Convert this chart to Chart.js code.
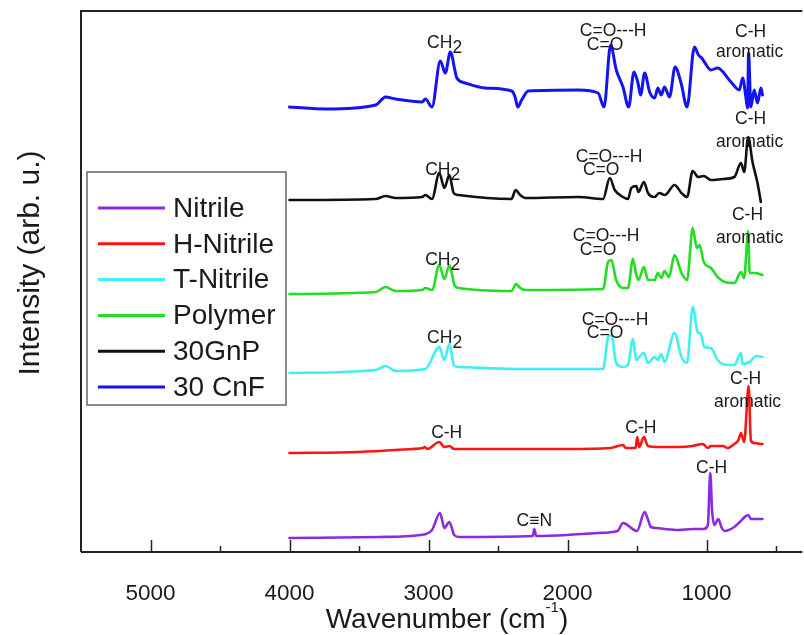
<!DOCTYPE html>
<html><head><meta charset="utf-8">
<script src="https://cdn.jsdelivr.net/npm/chart.js@4.4.1/dist/chart.umd.min.js"></script>
<style>html,body{margin:0;padding:0;background:#fff}canvas{display:block}</style>
</head><body>
<canvas id="c" width="804" height="635"></canvas>
<script>
// ---- data ----
const seriesNames = ['Nitrile', 'H-Nitrile', 'T-Nitrile', 'Polymer', '30GnP', '30 CnF'];
const seriesColors = ['#8a2be2', '#ff1414', '#3ef0f0', '#22dd22', '#111111', '#1414f0'];
const seriesOffsets = [14, 99, 179, 258, 352, 445];

const nitrileWave = [4000, 3350, 3060, 2975, 2917, 2886, 2850, 2815, 2780, 2250, 2239, 2225, 2000, 1780, 1640, 1601, 1580, 1560, 1500, 1445, 1420, 1400, 1360, 1300, 1200, 1100, 1020, 990, 973, 960, 944, 915, 890, 870, 800, 760, 700, 680, 597];
const nitrileInt  = [0, 1, 3, 8, 25, 10, 16, 3, 1, 2, 9, 2, 3, 5, 7, 15, 14, 12, 7, 26, 18, 11, 10, 9, 8, 9, 9, 13, 65, 28, 13, 19, 10, 7, 11, 16, 23, 19, 19];

const hNitrileWave = [4000, 3500, 3119, 3040, 3027, 3010, 2922, 2886, 2850, 2815, 2400, 2000, 1690, 1601, 1580, 1510, 1498, 1485, 1450, 1421, 1350, 1200, 1100, 1027, 990, 968, 880, 850, 800, 770, 752, 729, 697, 681, 660, 597];
const hNitrileInt  = [0, 1, 4, 5, 6, 4, 11, 6, 7, 4, 4, 4, 5, 8, 5, 5, 16, 6, 16, 7, 6, 6, 7, 9, 5, 7, 7, 5, 9, 13, 20, 11, 67, 13, 10, 9];

const tNitrileWave = [4000, 3380, 3309, 3237, 3022, 2922, 2886, 2850, 2815, 2780, 2370, 1744, 1708, 1684, 1650, 1600, 1565, 1529, 1505, 1490, 1450, 1421, 1373, 1350, 1326, 1302, 1230, 1180, 1140, 1099, 1060, 1045, 1015, 968, 920, 850, 800, 752, 740, 690, 640, 597];
const tNitrileInt  = [0, 3, 7, 2, 4, 26, 13, 29, 7, 6, 4, 4, 36, 38, 10, 6, 8, 34, 13, 15, 20, 10, 16, 13, 19, 11, 40, 16, 10, 66, 40, 40, 26, 25, 13, 8, 8, 20, 9, 11, 17, 16];

const polymerWave = [4000, 3380, 3309, 3237, 3046, 3022, 2975, 2922, 2886, 2850, 2810, 2780, 2403, 2370, 2340, 2300, 1744, 1708, 1684, 1650, 1600, 1565, 1529, 1505, 1490, 1450, 1421, 1373, 1350, 1326, 1302, 1270, 1230, 1180, 1140, 1099, 1070, 1050, 1020, 968, 920, 870, 800, 752, 729, 700, 690, 650, 597];
const polymerInt  = [0, 2, 7, 3, 4, 6, 4, 29, 15, 29, 8, 6, 3, 10, 6, 4, 5, 32, 34, 14, 6, 6, 35, 19, 14, 27, 14, 14, 21, 16, 23, 17, 39, 21, 14, 66, 46, 49, 32, 26, 17, 12, 11, 22, 16, 63, 21, 21, 19];

const gnpWave = [4000, 3380, 3309, 3237, 3046, 3022, 2975, 2922, 2886, 2850, 2819, 2784, 2403, 2373, 2341, 2305, 1923, 1744, 1696, 1660, 1601, 1565, 1541, 1505, 1490, 1450, 1421, 1373, 1340, 1300, 1230, 1180, 1140, 1099, 1060, 1020, 968, 880, 800, 752, 729, 700, 669, 633, 609];
const gnpInt  = [0, 1, 4, 2, 3, 5, 1, 27, 12, 25, 7, 5, 1, 10, 5, 2, 3, 1, 22, 10, 3, 1, 12, 14, 8, 18, 7, 3, 7, 5, 15, 7, 3, 29, 23, 24, 20, 21, 23, 37, 28, 63, 38, 17, -2];

const cnfWave = [4000, 3739, 3380, 3309, 3237, 3046, 3022, 2975, 2915, 2879, 2843, 2796, 2735, 2592, 2401, 2377, 2358, 2330, 2282, 1923, 1780, 1737, 1690, 1649, 1601, 1560, 1522, 1493, 1474, 1445, 1409, 1373, 1350, 1326, 1302, 1266, 1226, 1183, 1140, 1087, 1058, 1034, 1015, 968, 920, 824, 764, 740, 717, 705, 697, 681, 657, 633, 609, 597];
const cnfInt  = [0, -2, 2, 10, 8, 5, 8, 0, 46, 34, 55, 29, 24, 19, 16, 10, 0, 7, 16, 17, 14, 0, 62, 37, 20, 0, 35, 24, 12, 34, 15, 9, 19, 12, 20, 10, 40, 24, 0, 60, 52, 49, 45, 37, 39, 25, 17, 29, 10, -1, 54, 0, 17, 4, 19, 12];

const majorTicks = [5000, 4000, 3000, 2000, 1000];
const minorTicks = [4500, 3500, 2500, 1500, 500];

const annoText  = ['CH_2', 'C=O---H', 'C=O', 'C-H', 'aromatic',  'C-H', 'aromatic', 'CH_2', 'C=O---H', 'C=O',  'C-H', 'aromatic', 'CH_2', 'C=O---H', 'C=O',  'C=O---H', 'C=O', 'CH_2',  'C-H', 'aromatic', 'C-H', 'C-H',  'C-H', 'C\u2261N'];
const annoWave  = [2884, 1672, 1730, 683, 690,  683, 690, 2898, 1701, 1758,  705, 690, 2898, 1722, 1780,  1658, 1730, 2884,  719, 705, 2869, 1472,  963, 2239];
const annoLevel = [509, 521, 507, 520, 500,  433, 410, 382, 395, 382,  337, 314, 292, 316, 302,  232, 219, 214,  173, 150, 119, 124,  84, 31];

// ---- build datasets ----
const waves = [nitrileWave, hNitrileWave, tNitrileWave, polymerWave, gnpWave, cnfWave];
const ints  = [nitrileInt, hNitrileInt, tNitrileInt, polymerInt, gnpInt, cnfInt];
const datasets = seriesNames.map((name, k) => ({
  label: name,
  data: waves[k].map((w, i) => ({x: w, y: seriesOffsets[k] + ints[k][i]})),
  borderColor: seriesColors[k],
  backgroundColor: seriesColors[k],
  borderWidth: k === 5 ? 3 : 2.6,
  pointRadius: 0,
  cubicInterpolationMode: 'monotone',
  borderJoinStyle: 'round',
  borderCapStyle: 'round',
  fill: false
}));

const FONT = "'Liberation Sans', Arial, sans-serif";
const TXT = '#1a1a1a';

const decor = {
  id: 'decor',
  afterDraw(chart) {
    const {ctx, chartArea: a, scales: {x, y}} = chart;
    ctx.save();
    // frame
    ctx.strokeStyle = '#222'; ctx.lineWidth = 2;
    ctx.beginPath();
    ctx.moveTo(a.left, a.bottom); ctx.lineTo(a.left, a.top); ctx.lineTo(a.right, a.top);
    ctx.moveTo(a.left, a.bottom); ctx.lineTo(a.right, a.bottom);
    ctx.stroke();
    // inward ticks
    ctx.lineWidth = 1.5;
    x.ticks.forEach(t => {
      const px = Math.round(x.getPixelForValue(t.value)) + 0.5;
      const len = majorTicks.includes(t.value) ? 12 : 6;
      ctx.beginPath(); ctx.moveTo(px, a.bottom); ctx.lineTo(px, a.bottom - len); ctx.stroke();
    });
    // annotations
    ctx.fillStyle = TXT;
    ctx.font = '17.5px ' + FONT;
    ctx.textBaseline = 'middle';
    annoText.forEach((t, i) => {
      const cx = x.getPixelForValue(annoWave[i]);
      const cy = y.getPixelForValue(annoLevel[i]);
      if (t.includes('_')) {
        const [main, sub] = t.split('_');
        const w1 = ctx.measureText(main).width, w2 = ctx.measureText(sub).width;
        const sx = cx - (w1 + w2) / 2;
        ctx.textAlign = 'left';
        ctx.fillText(main, sx, cy);
        ctx.fillText(sub, sx + w1, cy + 5);
      } else {
        ctx.textAlign = 'center';
        ctx.fillText(t, cx, cy);
      }
    });
    // legend
    ctx.strokeStyle = '#666'; ctx.lineWidth = 1.5;
    ctx.strokeRect(87, 172, 199, 233);
    ctx.font = '28px ' + FONT;
    ctx.textAlign = 'left';
    chart.data.datasets.forEach((ds, i) => {
      const ry = 208 + i * 35.8;
      ctx.strokeStyle = ds.borderColor; ctx.lineWidth = 3;
      ctx.beginPath(); ctx.moveTo(98, ry); ctx.lineTo(165, ry); ctx.stroke();
      ctx.fillStyle = TXT;
      ctx.fillText(ds.label, 173, ry + 1);
    });
    // y title
    ctx.save();
    ctx.translate(31, 263); ctx.rotate(-Math.PI / 2);
    ctx.font = '30px ' + FONT; ctx.textAlign = 'center'; ctx.fillStyle = TXT;
    ctx.fillText('Intensity (arb. u.)', 0, 0);
    ctx.restore();
    // x title
    ctx.font = '28px ' + FONT;
    const p1 = 'Wavenumber (cm', sup = '-1', p3 = ')';
    const w1 = ctx.measureText(p1).width, w3 = ctx.measureText(p3).width;
    ctx.font = '15px ' + FONT;
    const w2 = ctx.measureText(sup).width;
    const total = w1 + w2 + w3;
    let sx = 447 - total / 2;
    ctx.textAlign = 'left'; ctx.fillStyle = TXT;
    ctx.font = '28px ' + FONT; ctx.fillText(p1, sx, 620);
    ctx.font = '15px ' + FONT; ctx.fillText(sup, sx + w1, 608);
    ctx.font = '28px ' + FONT; ctx.fillText(p3, sx + w1 + w2, 620);
    ctx.restore();
  }
};

new Chart(document.getElementById('c'), {
  type: 'line',
  data: {datasets},
  options: {
    responsive: false,
    animation: false,
    devicePixelRatio: 1,
    layout: {padding: {left: 81, top: 11, right: 0, bottom: 0}},
    plugins: {legend: {display: false}, tooltip: {enabled: false}},
    scales: {
      x: {
        type: 'linear', reverse: true, min: 310, max: 5500,
        afterBuildTicks: s => { s.ticks = majorTicks.concat(minorTicks).sort((a, b) => b - a).map(v => ({value: v})); },
        afterFit: s => { s.height = 83; },
        grid: {display: false, drawTicks: false},
        border: {display: false},
        ticks: {
          autoSkip: false, maxRotation: 0, padding: 28, color: TXT,
          font: {family: FONT, size: 22.5},
          callback: v => majorTicks.includes(v) ? String(v) : ''
        }
      },
      y: {type: 'linear', min: 0, max: 541, display: false}
    }
  },
  plugins: [decor]
});
</script>
</body></html>
